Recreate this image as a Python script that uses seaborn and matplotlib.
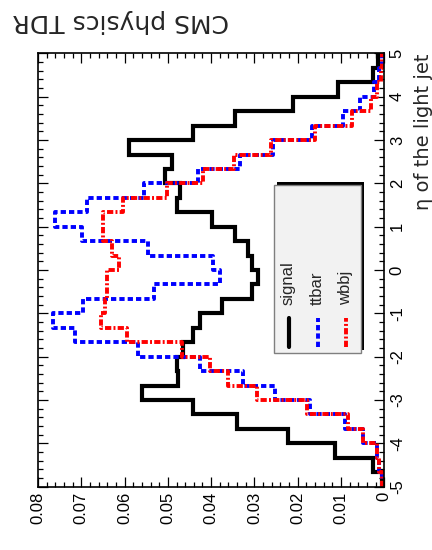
import numpy as np
import pandas as pd
import matplotlib
matplotlib.use("Agg")
import matplotlib.pyplot as plt
import seaborn as sns
from matplotlib.patches import Rectangle
from matplotlib.lines import Line2D
from matplotlib.ticker import MultipleLocator

# Pseudorapidity binning of the light jet (30 bins from -5 to 5)
eta_edges = np.linspace(-5.0, 5.0, 31)
eta_centers = 0.5 * (eta_edges[:-1] + eta_edges[1:])

# Normalised distributions, listed from eta = -5 upwards
signal = [0.0006, 0.0025, 0.0114, 0.0222, 0.0341, 0.0441, 0.0560, 0.0476, 0.0480, 0.0464,
          0.0441, 0.0426, 0.0376, 0.0306, 0.0291, 0.0306, 0.0314, 0.0345, 0.0399, 0.0480,
          0.0472, 0.0506, 0.0491, 0.0589, 0.0441, 0.0345, 0.0210, 0.0106, 0.0025, 0.0015]
ttbar = [0.0005, 0.0012, 0.0018, 0.0049, 0.0091, 0.0172, 0.0252, 0.0326, 0.0426, 0.0568,
         0.0714, 0.0765, 0.0695, 0.0533, 0.0380, 0.0395, 0.0545, 0.0699, 0.0760, 0.0687,
         0.0556, 0.0430, 0.0333, 0.0258, 0.0168, 0.0095, 0.0055, 0.0024, 0.0012, 0.0005]
wbbj = [0.0005, 0.0012, 0.0016, 0.0049, 0.0083, 0.0179, 0.0295, 0.0360, 0.0403, 0.0468,
        0.0595, 0.0655, 0.0645, 0.0640, 0.0640, 0.0614, 0.0629, 0.0649, 0.0649, 0.0603,
        0.0503, 0.0418, 0.0348, 0.0262, 0.0160, 0.0075, 0.0031, 0.0016, 0.0008, 0.0005]

sample_names = ["signal", "ttbar", "wbbj"]
value_ticks = [0.08, 0.07, 0.06, 0.05, 0.04, 0.03, 0.02, 0.01, 0.0]
value_labels = ["0.08", "0.07", "0.06", "0.05", "0.04", "0.03", "0.02", "0.01", "0"]
eta_ticks = [-5, -4, -3, -2, -1, 0, 1, 2, 3, 4, 5]
eta_labels = ["-5", "-4", "-3", "-2", "-1", "0", "1", "2", "3", "4", "5"]

df = pd.DataFrame({
    "eta": np.tile(eta_centers, 3),
    "value": signal + ttbar + wbbj,
    "sample": np.repeat(sample_names, len(eta_centers)),
})

sns.set_style("white")
plt.rcParams["font.family"] = ["Liberation Sans", "DejaVu Sans"]
plt.rcParams["axes.unicode_minus"] = False
plt.rcParams["lines.scale_dashes"] = False

W, H = 432, 550
fig = plt.figure(figsize=(W / 100, H / 100), dpi=100)
fig.patch.set_facecolor("white")

def fx(px):
    return px / W

def fy(py):
    return 1 - py / H

ax_l, ax_r, ax_t, ax_b = 38.0, 384.3, 53.4, 486.7
ax = fig.add_axes([fx(ax_l), fy(ax_b), (ax_r - ax_l) / W, (ax_b - ax_t) / H])
ax.set_facecolor("white")

styles = {
    "signal": dict(color="black", linewidth=3.0, linestyle="-"),
    "ttbar": dict(color="#0000ff", linewidth=2.8, linestyle=(0, (3.8, 2.2))),
    "wbbj": dict(color="#ff0000", linewidth=2.8, linestyle=(0, (4.5, 1.6, 1.4, 1.6))),
}

for name in sample_names:
    sns.histplot(data=df[df["sample"] == name], y="eta", weights="value",
                 bins=eta_edges.tolist(), element="step", fill=False, ax=ax,
                 solid_joinstyle="miter", **styles[name])

ax.set_xlim(0.08, 0.0)
ax.set_ylim(-5, 5)
ax.set_xlabel("")

for sp in ax.spines.values():
    sp.set_visible(True)
    sp.set_linewidth(1.2)
    sp.set_color("black")

ax.set_xticks(value_ticks, value_labels, rotation=90, fontsize=12)
ax.xaxis.set_minor_locator(MultipleLocator(0.002))
ax.yaxis.tick_right()
ax.set_yticks(eta_ticks, eta_labels, rotation=90, va="center", fontsize=12)
ax.yaxis.set_minor_locator(MultipleLocator(0.2))
ax.tick_params(axis="both", which="both", direction="in", top=True, bottom=True,
               left=True, right=True, colors="black")
ax.tick_params(axis="both", which="major", length=7, width=0.9)
ax.tick_params(axis="both", which="minor", length=3.6, width=0.9)
ax.tick_params(axis="x", which="major", pad=3.5)
ax.tick_params(axis="y", which="major", pad=4)

ax.yaxis.set_label_position("right")
ax.set_ylabel("η of the light jet", loc="top", rotation=90, fontsize=14,
              family="DejaVu Sans")
ax.yaxis.set_label_coords((414 - ax_l) / (ax_r - ax_l), 1.0)

# Title
fig.text(fx(121), fy(21), "CMS physics TDR", rotation=180, ha="center", va="center",
         fontsize=18, family="DejaVu Sans")

# Legend box with shadow
bx0, bx1, by0, by1 = 274, 361, 185, 353
fig.add_artist(Rectangle((fx(bx0 + 3), fy(by1 - 3.5)), (bx1 - bx0) / W, (by1 - by0) / H,
                         transform=fig.transFigure, facecolor="black", edgecolor="black",
                         linewidth=0, zorder=5))
fig.add_artist(Rectangle((fx(bx0), fy(by1)), (bx1 - bx0) / W, (by1 - by0) / H,
                         transform=fig.transFigure, facecolor="#f2f2f2", edgecolor="#7f7f7f",
                         linewidth=1.0, zorder=6))
entry_x = {"signal": 288.5, "ttbar": 317.5, "wbbj": 346}
for name in sample_names:
    x = entry_x[name]
    st = styles[name]
    fig.add_artist(Line2D([fx(x), fx(x)], [fy(347), fy(318)], transform=fig.transFigure,
                          color=st["color"], linewidth=st["linewidth"],
                          linestyle=st["linestyle"], zorder=7))
    fig.text(fx(x), fy(305), name, rotation=90, ha="center", va="bottom",
             fontsize=12, zorder=8)

fig.savefig("out.png", dpi=100)
